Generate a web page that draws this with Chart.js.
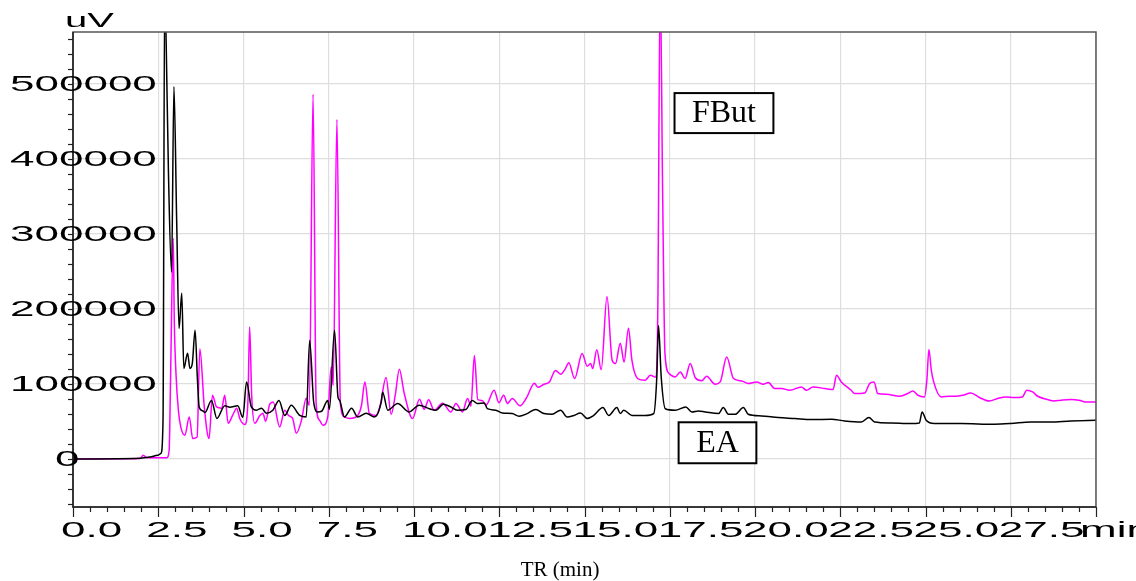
<!DOCTYPE html>
<html>
<head>
<meta charset="utf-8">
<script src="https://cdn.jsdelivr.net/npm/chart.js@4.4.0/dist/chart.umd.min.js"></script>
<style>
  body { margin: 0; background: #fff; }
  #wrap { width: 1136px; height: 581px; }
</style>
</head>
<body>
<div id="wrap"><canvas id="chromChart" width="1136" height="581"></canvas></div>
<script>
// retention time (min) and detector signal (uV)
var eaTime = [0, 1.97, 2.26, 2.49, 2.58, 2.64, 2.69, 2.73, 2.80, 2.89, 2.96, 3.04, 3.11, 3.19, 3.25, 3.36, 3.43, 3.50, 3.58, 3.65,
  3.70, 3.81, 3.87, 4.06, 4.22, 4.45, 4.60, 4.83, 4.98, 5.09, 5.23, 5.38, 5.53, 5.67, 5.86, 6.04, 6.21, 6.40, 6.65, 6.84,
  6.94, 7.06, 7.18, 7.29, 7.47, 7.52, 7.67, 7.77, 7.82, 7.96, 8.17, 8.35, 8.60, 8.84, 9.04, 9.08, 9.23, 9.52, 9.86, 10.15,
  10.45, 10.64, 10.86, 11.08, 11.27, 11.52, 11.71, 11.86, 12.06, 12.15, 12.40, 12.59, 12.88, 13.08, 13.32, 13.57, 13.81, 14.05, 14.30, 14.49,
  14.69, 14.88, 15.08, 15.27, 15.54, 15.71, 15.95, 16.05, 16.15, 16.39, 16.78, 17.03, 17.12, 17.17, 17.25, 17.37, 17.66, 17.97, 18.15, 18.34,
  18.54, 18.93, 19.07, 19.22, 19.42, 19.66, 19.80, 20.19, 20.68, 21.17, 21.65, 22.24, 22.63, 23.12, 23.34, 23.51, 24.00, 24.58, 24.82, 24.90,
  25.02, 25.26, 26.04, 27.02, 27.50, 28.09, 28.67, 29.26, 30];
var eaSignal = [0, 1000, 2700, 5000, 7600, 52000, 640000, 560000, 380000, 249000, 496000, 318000, 174000, 221000, 120500, 141000, 120500, 127600, 171600, 105000,
  69300, 64000, 62000, 78000, 54000, 71000, 69000, 71000, 55600, 102700, 69300, 65000, 67600, 61000, 65000, 78000, 58000, 71600, 58000, 56000,
  158000, 75000, 62700, 63600, 78000, 66000, 171600, 82700, 78000, 56000, 67600, 56000, 61000, 56000, 76000, 89000, 65000, 74000, 62700, 71600,
  67000, 65000, 73000, 69300, 65000, 66000, 78000, 74000, 74700, 67000, 65000, 61300, 60500, 57000, 60500, 66000, 60500, 59600, 65000, 56000,
  58000, 61300, 54000, 58000, 68500, 58000, 68500, 60500, 65000, 58000, 58000, 60500, 109000, 178000, 109000, 67000, 65000, 69300, 62700, 64000,
  62700, 60500, 68500, 59600, 59600, 68500, 59600, 57300, 55200, 53900, 52500, 53000, 50700, 49300, 55200, 49300, 48000, 47200, 48000, 62700,
  51600, 47200, 47200, 46300, 47200, 49300, 49300, 50700, 51600];

var fbutTime = [0, 1.97, 2.06, 2.17, 2.41, 2.75, 2.82, 2.86, 2.94, 2.97, 3.02, 3.09, 3.16, 3.28, 3.41, 3.51, 3.64, 3.72, 3.85, 3.99,
  4.09, 4.21, 4.36, 4.45, 4.55, 4.68, 4.80, 4.89, 5.04, 5.13, 5.18, 5.24, 5.33, 5.48, 5.57, 5.65, 5.77, 5.87, 6.06, 6.21,
  6.32, 6.44, 6.55, 6.70, 6.84, 6.93, 7.04, 7.13, 7.23, 7.33, 7.47, 7.57, 7.63, 7.74, 7.84, 7.96, 8.11, 8.35, 8.46, 8.56,
  8.69, 8.89, 9.01, 9.18, 9.33, 9.45, 9.57, 9.71, 9.96, 10.16, 10.30, 10.43, 10.59, 10.84, 11.08, 11.23, 11.42, 11.57, 11.67, 11.77,
  11.87, 12.00, 12.11, 12.35, 12.49, 12.63, 12.74, 12.88, 13.11, 13.30, 13.53, 13.63, 13.81, 13.97, 14.15, 14.30, 14.44, 14.54, 14.71, 14.93,
  15.08, 15.18, 15.24, 15.36, 15.49, 15.66, 15.81, 15.91, 16.05, 16.16, 16.29, 16.39, 16.56, 16.78, 16.93, 17.08, 17.15, 17.22, 17.29, 17.36,
  17.48, 17.66, 17.81, 17.95, 18.10, 18.25, 18.44, 18.58, 18.83, 18.98, 19.17, 19.37, 19.61, 19.80, 20.05, 20.24, 20.39, 20.58, 20.78, 21.02,
  21.36, 21.51, 21.70, 22.05, 22.29, 22.39, 22.53, 22.82, 22.92, 23.22, 23.36, 23.49, 23.60, 23.85, 24.24, 24.48, 24.63, 24.78, 24.97, 25.04,
  25.10, 25.17, 25.24, 25.46, 25.70, 25.89, 26.09, 26.33, 26.58, 26.87, 27.11, 27.36, 27.60, 27.84, 27.97, 28.14, 28.29, 28.58, 28.77, 28.97,
  29.26, 29.50, 29.69, 30];
var fbutSignal = [0, 500, 5000, 1500, 1500, 1600, 11600, 105000, 294000, 185000, 114000, 65000, 42700, 31600, 56000, 27200, 29300, 147000, 69300, 27200,
  85000, 69300, 67600, 85000, 47600, 58000, 67600, 54000, 46000, 78000, 176000, 85000, 47600, 58000, 61000, 50300, 73000, 76000, 42700, 65000,
  58000, 54000, 34300, 51600, 81000, 71600, 486000, 74300, 51600, 45000, 56000, 122700, 98000, 452500, 74300, 56000, 54000, 58000, 71600, 102700,
  61000, 58000, 71600, 108500, 59600, 85000, 119600, 88300, 53900, 79600, 66300, 79000, 65000, 74300, 62700, 74000, 62700, 80500, 70300, 138000,
  79000, 78000, 71600, 91600, 75000, 85000, 74000, 80500, 71000, 81600, 101000, 95600, 99600, 102700, 117900, 113000, 120500, 128300, 107200, 140500,
  123600, 127200, 120500, 145500, 119000, 216500, 131600, 127200, 154300, 129300, 174300, 131600, 107200, 105000, 111600, 109000, 200000, 640000, 360000, 140000,
  114000, 109300, 116000, 107200, 127200, 108300, 104300, 110300, 99600, 102700, 136000, 107200, 104000, 100500, 102700, 99600, 101900, 93900, 93900, 91600,
  96000, 91600, 96000, 93900, 92500, 111600, 102700, 91600, 87200, 88000, 100500, 102700, 87200, 86300, 83600, 87200, 90700, 84900, 82700, 105000,
  145900, 118300, 102700, 82700, 83600, 83600, 84900, 88000, 81900, 77300, 80500, 82700, 81900, 82700, 91600, 89300, 83600, 79200, 77300, 78300,
  79200, 78300, 76000, 76000];

var seriesNames = ["FBut", "EA"];
var xTickValues = [0, 2.5, 5, 7.5, 10, 12.5, 15, 17.5, 20, 22.5, 25, 27.5, 30];
var xTickLabels = ["0.0", "2.5", "5.0", "7.5", "10.0", "12.5", "15.0", "17.5", "20.0", "22.5", "25.0", "27.5", "min"];
var yTickValues = [0, 100000, 200000, 300000, 400000, 500000];
var yTickLabels = ["0", "100000", "200000", "300000", "400000", "500000"];

function toPoints(times, values) {
  return times.map(function (t, i) { return { x: t, y: values[i] }; });
}

function stretchText(ctx, text, x, y, sx) {
  ctx.save();
  ctx.translate(x, y);
  ctx.scale(sx, 1);
  ctx.fillText(text, 0, 0);
  ctx.restore();
}

// frame, tick marks, stretched tick labels and the two name boxes
var framePlugin = {
  id: "frame",
  afterDraw: function (chart) {
    var ctx = chart.ctx;
    var area = chart.chartArea;
    var xs = chart.scales.x;
    var ys = chart.scales.y;
    ctx.save();

    ctx.strokeStyle = "#555";
    ctx.lineWidth = 1.5;
    ctx.strokeRect(area.left, area.top, area.right - area.left, area.bottom - area.top);
    ctx.strokeStyle = "#222";
    ctx.beginPath();
    ctx.moveTo(area.left, area.top);
    ctx.lineTo(area.left, area.bottom);
    ctx.lineTo(area.right, area.bottom);
    ctx.stroke();

    ctx.lineWidth = 1.2;
    for (var i = 0; i <= 60; i++) {
      var px = Math.round(xs.getPixelForValue(i * 0.5)) + 0.5;
      ctx.beginPath();
      ctx.moveTo(px, area.bottom);
      ctx.lineTo(px, area.bottom + (i % 5 === 0 ? 10 : 5));
      ctx.stroke();
    }
    for (var k = -3; k <= 28; k++) {
      var py = Math.round(ys.getPixelForValue(k * 20000)) + 0.5;
      if (py < area.top || py > area.bottom) continue;
      ctx.beginPath();
      ctx.moveTo(area.left - 5, py);
      ctx.lineTo(area.left, py);
      ctx.stroke();
    }

    ctx.fillStyle = "#000";
    ctx.textAlign = "left";
    ctx.font = "22px 'Liberation Sans', Arial, sans-serif";
    ctx.textBaseline = "alphabetic";
    xTickValues.forEach(function (t, j) {
      var shift = j === xTickValues.length - 1 ? 16 : 12;
      stretchText(ctx, xTickLabels[j], xs.getPixelForValue(t) - shift, 537, 2);
    });
    ctx.textBaseline = "middle";
    yTickValues.forEach(function (v, j) {
      stretchText(ctx, yTickLabels[j], v === 0 ? 55 : 10, ys.getPixelForValue(v) + 1, 2);
    });
    ctx.font = "20px 'Liberation Sans', Arial, sans-serif";
    ctx.textBaseline = "alphabetic";
    stretchText(ctx, "uV", 65, 27, 2);

    ctx.font = "21px 'Liberation Serif', 'Times New Roman', serif";
    ctx.textAlign = "center";
    ctx.fillText("TR (min)", 560, 576);

    var boxes = [
      { text: seriesNames[0], t0: 17.64, t1: 20.54, v0: 487600, v1: 434300 },
      { text: seriesNames[1], t0: 17.76, t1: 20.04, v0: 48900, v1: -5700 }
    ];
    ctx.font = "32px 'Liberation Serif', 'Times New Roman', serif";
    ctx.textBaseline = "middle";
    ctx.lineWidth = 2;
    ctx.strokeStyle = "#000";
    boxes.forEach(function (b) {
      var x0 = xs.getPixelForValue(b.t0), x1 = xs.getPixelForValue(b.t1);
      var y0 = ys.getPixelForValue(b.v0), y1 = ys.getPixelForValue(b.v1);
      ctx.fillStyle = "#fff";
      ctx.fillRect(x0, y0, x1 - x0, y1 - y0);
      ctx.strokeRect(x0, y0, x1 - x0, y1 - y0);
      ctx.fillStyle = "#000";
      ctx.fillText(b.text, (x0 + x1) / 2, (y0 + y1) / 2 + 1);
    });
    ctx.restore();
  }
};

var ctxChrom = document.getElementById("chromChart").getContext("2d");
var chromChart = new Chart(ctxChrom, {
  type: "line",
  data: {
    datasets: [
      {
        label: seriesNames[0],
        data: toPoints(fbutTime, fbutSignal),
        borderColor: "#ff00ff",
        borderWidth: 1.5,
        pointRadius: 0,
        cubicInterpolationMode: "monotone",
        order: 1
      },
      {
        label: seriesNames[1],
        data: toPoints(eaTime, eaSignal),
        borderColor: "#000000",
        borderWidth: 1.5,
        pointRadius: 0,
        cubicInterpolationMode: "monotone",
        order: 0
      }
    ]
  },
  options: {
    responsive: false,
    animation: false,
    devicePixelRatio: 1,
    layout: { padding: { left: 73, top: 32, right: 40, bottom: 74 } },
    plugins: { legend: { display: false }, tooltip: { enabled: false } },
    scales: {
      x: {
        type: "linear",
        min: 0,
        max: 30,
        afterBuildTicks: function (scale) {
          scale.ticks = xTickValues.map(function (v) { return { value: v }; });
        },
        ticks: { display: false },
        grid: { color: "#dedede", lineWidth: 1.2, drawTicks: false },
        border: { display: false }
      },
      y: {
        min: -64000,
        max: 569000,
        afterBuildTicks: function (scale) {
          scale.ticks = yTickValues.map(function (v) { return { value: v }; });
        },
        ticks: { display: false },
        grid: { color: "#dedede", lineWidth: 1.2, drawTicks: false },
        border: { display: false }
      }
    }
  },
  plugins: [framePlugin]
});
</script>
</body>
</html>
